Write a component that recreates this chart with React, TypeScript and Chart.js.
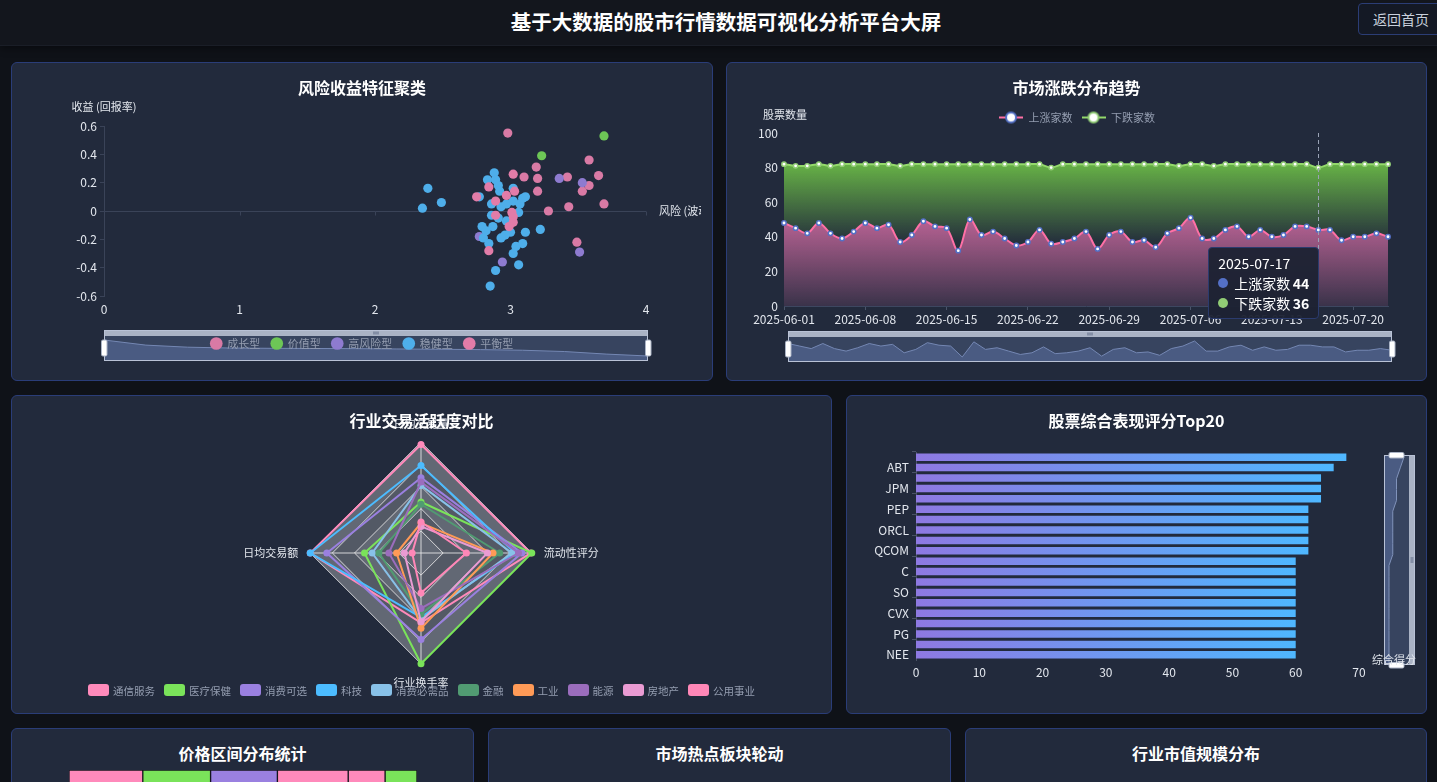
import React, { useEffect, useRef } from 'react';
import { Chart, registerables } from 'chart.js';

Chart.register(...registerables);

const FONT = "'Noto Sans CJK SC', 'Noto Sans', sans-serif";
Chart.defaults.font.family = FONT;
Chart.defaults.font.size = 12;

// ================= DATA =================
// 风险收益特征聚类 (risk, return)
const growthPoints: [number, number][] = [
  [2.98, 0.55], [3.19, 0.31], [3.10, 0.24], [3.20, 0.23], [3.20, 0.14], [3.42, 0.24], [3.58, 0.36],
  [3.65, 0.25], [3.58, 0.18], [3.53, 0.14], [3.69, 0.05], [3.43, 0.03], [3.28, 0.0], [3.49, -0.22],
];
const valuePoints: [number, number][] = [[3.69, 0.53], [3.23, 0.39]];
const highRiskPoints: [number, number][] = [[3.36, 0.23], [3.53, 0.2], [2.77, -0.18], [2.94, -0.36], [3.51, -0.29]];
const stablePoints: [number, number][] = [
  [2.39, 0.16], [2.35, 0.02], [2.49, 0.06], [2.88, 0.27], [2.83, 0.22], [2.89, 0.22], [2.91, 0.18],
  [3.02, 0.16], [2.92, 0.14], [2.77, 0.1], [2.86, 0.05], [2.93, 0.03], [2.97, 0.05], [3.02, 0.07],
  [3.07, 0.05], [3.09, 0.09], [3.11, 0.1], [3.06, -0.01], [2.86, -0.03], [2.91, -0.05], [2.97, -0.07],
  [2.79, -0.11], [2.87, -0.11], [2.82, -0.14], [3.0, -0.15], [3.11, -0.15], [3.22, -0.13], [2.96, -0.17],
  [2.93, -0.19], [2.8, -0.19], [2.84, -0.23], [3.04, -0.25], [3.09, -0.23], [3.02, -0.3], [3.06, -0.38],
  [2.89, -0.42], [2.85, -0.53],
];
const balancedPoints: [number, number][] = [
  [3.02, 0.26], [3.03, 0.14], [2.97, 0.11], [2.84, 0.17], [2.75, 0.1], [2.89, 0.07], [3.01, -0.01],
  [2.89, -0.03], [3.02, -0.04], [3.02, -0.08], [2.99, -0.11], [2.84, -0.28],
];
const scatterGroupNames = ['成长型', '价值型', '高风险型', '稳健型', '平衡型'];
const scatterZoomShadow = [1.0, 0.68, 0.55, 0.5, 0.48, 0.47, 0.46, 0.44, 0.42, 0.4, 0.36, 0.28, 0.12, 0.0];

// 市场涨跌分布趋势
const trendStartDate = '2025-06-01';
const upCounts = [
  48, 45, 42, 48, 42, 39, 43, 48, 45, 47, 37, 41, 49, 46, 45, 32, 50, 41, 43, 39, 35, 37, 44, 36, 37, 39, 43,
  33, 41, 43, 37, 38, 34, 42, 45, 51, 39, 39, 44, 46, 40, 44, 40, 41, 46, 46, 44, 44, 38, 40, 40, 42, 40,
];
const downCounts = [
  34, 36, 39, 34, 39, 43, 39, 34, 37, 35, 44, 41, 33, 36, 37, 50, 32, 41, 39, 43, 47, 45, 38, 44, 45, 43, 39,
  49, 41, 39, 45, 44, 48, 40, 36, 31, 43, 42, 38, 36, 42, 38, 42, 41, 36, 36, 36, 38, 44, 42, 42, 40, 42,
];
const trendSeriesNames = ['上涨家数', '下跌家数'];
const hoverDate = '2025-07-17';

function buildDates(start: string, n: number): string[] {
  const out: string[] = [];
  const d = new Date(start + 'T00:00:00Z');
  for (let i = 0; i < n; i++) {
    const c = new Date(d.getTime() + i * 86400000);
    out.push(c.toISOString().slice(0, 10));
  }
  return out;
}
const trendDates = buildDates(trendStartDate, upCounts.length);

// 行业交易活跃度对比
const radarIndicators = ['日均交易量', '流动性评分', '行业换手率', '日均交易额'];
const radarIndustries = ['通信服务', '医疗保健', '消费可选', '科技', '消费必需品', '金融', '工业', '能源', '房地产', '公用事业'];
const radarValues: number[][] = [
  [98, 99, 63, 100],
  [46, 100, 100, 51],
  [68, 91, 78, 85],
  [79, 85, 58, 100],
  [61, 82, 60, 44],
  [44, 71, 55, 38],
  [27, 65, 68, 22],
  [64, 88, 50, 29],
  [24, 60, 62, 15],
  [28, 41, 36, 8],
];

// 股票综合表现评分Top20
const topStocks = ['MSFT', 'ABT', 'KO', 'JPM', 'JNJ', 'PEP', 'WMT', 'ORCL', 'CSCO', 'QCOM', 'BAC', 'C', 'DUK', 'SO', 'XOM', 'CVX', 'MRK', 'PG', 'D', 'NEE'];
const topScores = [68, 66, 64, 64, 64, 62, 62, 62, 62, 62, 60, 60, 60, 60, 60, 60, 60, 60, 60, 60];

// 价格区间分布统计
const priceRanges = ['0-10元', '10-20元', '20-50元', '50-100元', '100-200元', '200元以上'];
const priceCounts = [74, 68, 67, 71, 37, 32];

// ================= STYLE =================
const TXT = '#e3e7ee';
const AXIS = '#3a4358';
const LEGEND_TXT = '#949db0';
const scatterColors = ['#d97aa5', '#6dc656', '#8e7bd0', '#4eaeea', '#e27ca8'];
const trendLineColors = ['#ff70a6', '#93d96a'];
const trendItemColors = ['#5470c6', '#91cc75'];
const radarColors = ['#ff8abb', '#7ae35a', '#9a80e0', '#4cbcff', '#88c1e8', '#519b72', '#ff9a57', '#9b6dbd', '#ea9bd3', '#ff87b7'];
const priceColors = ['#ff8abb', '#7ae35a', '#9a80e0', '#ff8abb', '#ff8abb', '#7ae35a'];

// page geometry of canvases
const SC = { left: 23, top: 95, width: 678, height: 275 };
const TR = { left: 738, top: 95, width: 678, height: 275 };
const RD = { left: 11, top: 400, width: 821, height: 290 };
const BR = { left: 850, top: 440, width: 574, height: 260 };
const PR = { left: 69, top: 770, width: 348, height: 40 };

// ================= HELPERS =================
function roundRect(ctx: CanvasRenderingContext2D, x: number, y: number, w: number, h: number, r: number) {
  ctx.beginPath();
  ctx.moveTo(x + r, y);
  ctx.arcTo(x + w, y, x + w, y + h, r);
  ctx.arcTo(x + w, y + h, x, y + h, r);
  ctx.arcTo(x, y + h, x, y, r);
  ctx.arcTo(x, y, x + w, y, r);
  ctx.closePath();
}

function drawHSlider(ctx: CanvasRenderingContext2D, x: number, y: number, w: number, h: number, values: number[]) {
  ctx.save();
  const by = y + 6;
  const bh = h - 6;
  ctx.fillStyle = '#37445f';
  ctx.fillRect(x, by, w, bh);
  const mn = Math.min(...values);
  const mx = Math.max(...values);
  const top = by + 4;
  const bot = by + bh - 5;
  const pts = values.map((v, i) => [x + (w * i) / (values.length - 1), bot - ((v - mn) / (mx - mn || 1)) * (bot - top)]);
  ctx.beginPath();
  ctx.moveTo(x, by + bh);
  pts.forEach((p) => ctx.lineTo(p[0], p[1]));
  ctx.lineTo(x + w, by + bh);
  ctx.closePath();
  ctx.fillStyle = '#4a5b82';
  ctx.fill();
  ctx.beginPath();
  pts.forEach((p, i) => (i ? ctx.lineTo(p[0], p[1]) : ctx.moveTo(p[0], p[1])));
  ctx.strokeStyle = '#7487b3';
  ctx.lineWidth = 1;
  ctx.stroke();
  ctx.fillStyle = '#aab3c5';
  ctx.fillRect(x, y, w, 6);
  ctx.strokeStyle = '#b9c2d6';
  ctx.strokeRect(x + 0.5, y + 0.5, w - 1, h - 1);
  ctx.fillStyle = '#5d6a86';
  for (let k = -1; k <= 1; k++) ctx.fillRect(x + w / 2 + k * 2 - 0.5, y + 1.5, 1, 3);
  ctx.fillStyle = '#ffffff';
  ctx.strokeStyle = '#aab3c5';
  [x, x + w].forEach((hx) => {
    roundRect(ctx, hx - 2.5, by + 4, 5.5, 16, 1.5);
    ctx.fill();
    ctx.stroke();
  });
  ctx.restore();
}

function drawVSlider(ctx: CanvasRenderingContext2D, x: number, y: number, w: number, h: number, values: number[]) {
  ctx.save();
  const bw = w - 6;
  ctx.fillStyle = '#37445f';
  ctx.fillRect(x, y, bw, h);
  const mn = Math.min(...values);
  const mx = Math.max(...values);
  const l = x + 5;
  const r = x + bw - 5;
  const pts = values.map((v, i) => [l + ((v - mn) / (mx - mn || 1)) * (r - l), y + 2 + ((h - 4) * i) / (values.length - 1)]);
  ctx.beginPath();
  ctx.moveTo(x, y);
  pts.forEach((p) => ctx.lineTo(p[0], p[1]));
  ctx.lineTo(x, y + h);
  ctx.closePath();
  ctx.fillStyle = '#4a5b82';
  ctx.fill();
  ctx.beginPath();
  pts.forEach((p, i) => (i ? ctx.lineTo(p[0], p[1]) : ctx.moveTo(p[0], p[1])));
  ctx.strokeStyle = '#8193bb';
  ctx.lineWidth = 1;
  ctx.stroke();
  ctx.fillStyle = '#aab3c5';
  ctx.fillRect(x + bw, y, 6, h);
  ctx.strokeStyle = '#b9c2d6';
  ctx.strokeRect(x + 0.5, y + 0.5, w - 1, h - 1);
  ctx.fillStyle = '#5d6a86';
  for (let k = -1; k <= 1; k++) ctx.fillRect(x + bw + 1.5, y + h / 2 + k * 2 - 0.5, 3, 1);
  ctx.fillStyle = '#ffffff';
  ctx.strokeStyle = '#aab3c5';
  [y, y + h].forEach((hy) => {
    roundRect(ctx, x + 5, hy - 2.5, bw - 10, 5.5, 1.5);
    ctx.fill();
    ctx.stroke();
  });
  ctx.restore();
}

function makeLegendIcon(lineColor: string, ringColor: string) {
  const c = document.createElement('canvas');
  c.width = 24;
  c.height = 14;
  const g = c.getContext('2d')!;
  g.strokeStyle = lineColor;
  g.lineWidth = 2;
  g.beginPath();
  g.moveTo(0, 7);
  g.lineTo(24, 7);
  g.stroke();
  g.beginPath();
  g.arc(12, 7, 5, 0, Math.PI * 2);
  g.fillStyle = '#ffffff';
  g.fill();
  g.strokeStyle = ringColor;
  g.lineWidth = 2;
  g.stroke();
  return c;
}

function useChart(ref: React.RefObject<HTMLCanvasElement>, make: (c: HTMLCanvasElement) => Chart) {
  useEffect(() => {
    const chart = make(ref.current!);
    return () => chart.destroy();
  }, []);
}

// ================= CHARTS =================
function ScatterChart() {
  const ref = useRef<HTMLCanvasElement>(null);
  useChart(ref, (canvas) => {
    const groups = [growthPoints, valuePoints, highRiskPoints, stablePoints, balancedPoints];
    const decor = {
      id: 'scatterDecor',
      beforeDraw(chart: any) {
        const a = chart.chartArea;
        drawHSlider(chart.ctx, a.left, a.bottom + 34, a.right + 2 - a.left, 31, scatterZoomShadow);
      },
      beforeDatasetsDraw(chart: any) {
        const { ctx, scales } = chart;
        const y0 = Math.round(scales.y.getPixelForValue(0)) + 0.5;
        ctx.save();
        ctx.strokeStyle = AXIS;
        ctx.lineWidth = 1;
        scales.x.ticks.forEach((t: any) => {
          const x = Math.round(scales.x.getPixelForValue(t.value)) + 0.5;
          ctx.beginPath();
          ctx.moveTo(x, y0);
          ctx.lineTo(x, y0 + 4);
          ctx.stroke();
        });
        ctx.restore();
      },
      afterDraw(chart: any) {
        const { ctx, chartArea: a, scales } = chart;
        ctx.save();
        ctx.fillStyle = TXT;
        ctx.font = `11px ${FONT}`;
        ctx.textBaseline = 'middle';
        ctx.textAlign = 'center';
        ctx.fillText('收益 (回报率)', a.left, a.top - 19);
        ctx.textAlign = 'left';
        ctx.fillText('风险 (波动率)', a.right + 13, scales.y.getPixelForValue(0));
        ctx.restore();
      },
    };
    return new Chart(canvas, {
      type: 'scatter',
      data: {
        datasets: groups.map((pts, i) => ({
          label: scatterGroupNames[i],
          data: pts.map(([x, y]) => ({ x, y })),
          backgroundColor: scatterColors[i],
          borderColor: scatterColors[i],
          borderWidth: 0,
          pointRadius: 4.6,
          order: -i,
        })),
      },
      options: {
        animation: false,
        responsive: false,
        events: [],
        layout: { padding: { left: 0, right: 0, top: 0, bottom: 11 } },
        plugins: {
          legend: {
            position: 'bottom',
            labels: {
              usePointStyle: true,
              pointStyle: 'circle',
              boxWidth: 11,
              boxHeight: 9,
              padding: 11,
              color: LEGEND_TXT,
              font: { size: 11 },
              sort: (a: any, b: any) => a.datasetIndex - b.datasetIndex,
            },
          },
          tooltip: { enabled: false },
        },
        scales: {
          x: {
            type: 'linear',
            min: 0,
            max: 4,
            ticks: { stepSize: 1, color: TXT, padding: 6 },
            grid: { display: false, drawTicks: false },
            border: { display: false },
            afterFit: (s: any) => {
              s.height = 31;
              s.paddingLeft = 0;
              s.paddingRight = 55;
            },
          },
          y: {
            min: -0.6,
            max: 0.6,
            ticks: { stepSize: 0.2, color: TXT, padding: 3 },
            grid: {
              color: (c: any) => (c.tick && Math.abs(c.tick.value) < 1e-9 ? AXIS : 'rgba(0,0,0,0)'),
              tickColor: AXIS,
              tickLength: 4,
            },
            border: { display: true, color: AXIS },
            afterFit: (s: any) => {
              s.width = 81;
              s.paddingTop = 31;
              s.paddingBottom = 0;
            },
          },
        },
      } as any,
      plugins: [decor],
    });
  });
  return <canvas ref={ref} width={SC.width} height={SC.height} style={{ position: 'absolute', left: SC.left, top: SC.top }} />;
}

function TrendChart() {
  const ref = useRef<HTMLCanvasElement>(null);
  const tipRef = useRef<HTMLDivElement>(null);
  useEffect(() => {
    const icons = [makeLegendIcon(trendLineColors[0], trendItemColors[0]), makeLegendIcon(trendLineColors[1], trendItemColors[1])];
    const decor = {
      id: 'trendDecor',
      beforeDraw(chart: any) {
        const a = chart.chartArea;
        drawHSlider(chart.ctx, a.left + 4, a.bottom + 25, a.right - a.left, 31, upCounts);
      },
      afterDatasetsDraw(chart: any) {
        const { ctx, chartArea: a } = chart;
        const act = chart.tooltip ? chart.tooltip.getActiveElements() : [];
        if (act.length) {
          const x = Math.round(act[0].element.x) + 0.5;
          ctx.save();
          ctx.strokeStyle = '#9aa3b6';
          ctx.lineWidth = 1;
          ctx.setLineDash([4, 3]);
          ctx.beginPath();
          ctx.moveTo(x, a.top);
          ctx.lineTo(x, a.bottom);
          ctx.stroke();
          ctx.restore();
        }
        ctx.save();
        ctx.fillStyle = TXT;
        ctx.font = `11px ${FONT}`;
        ctx.textAlign = 'center';
        ctx.textBaseline = 'middle';
        ctx.fillText('股票数量', a.left + 1, a.top - 18);
        ctx.restore();
      },
    };
    const upFill = (c: any) => {
      const chart = c.chart;
      if (!chart.chartArea) return 'rgba(236,118,178,0.4)';
      const y = chart.scales.y;
      const g = chart.ctx.createLinearGradient(0, y.getPixelForValue(50), 0, y.getPixelForValue(0));
      g.addColorStop(0, 'rgba(236,118,178,0.74)');
      g.addColorStop(1, 'rgba(236,118,178,0.12)');
      return g;
    };
    const downFill = (c: any) => {
      const chart = c.chart;
      if (!chart.chartArea) return 'rgba(118,200,78,0.5)';
      const y = chart.scales.y;
      const g = chart.ctx.createLinearGradient(0, y.getPixelForValue(82), 0, y.getPixelForValue(38));
      g.addColorStop(0, 'rgba(112,196,72,0.88)');
      g.addColorStop(1, 'rgba(112,196,72,0.06)');
      return g;
    };
    const external = ({ tooltip }: any) => {
      const el = tipRef.current;
      if (!el) return;
      if (tooltip.opacity === 0 || !tooltip.dataPoints || !tooltip.dataPoints.length) {
        el.style.display = 'none';
        return;
      }
      const p = tooltip.dataPoints[0].element;
      const rows = tooltip.dataPoints
        .map(
          (dp: any) =>
            `<div style="display:flex;align-items:center;height:20px"><span style="display:inline-block;width:10px;height:10px;border-radius:50%;background:${trendItemColors[dp.datasetIndex]};margin-right:6px"></span><span style="flex:1">${dp.dataset.label}</span><b>${dp.formattedValue}</b></div>`
        )
        .join('');
      el.innerHTML = `<div style="height:20px;line-height:20px">${tooltip.title[0]}</div>${rows}`;
      el.style.display = 'block';
      el.style.left = TR.left + p.x - 110 + 'px';
      el.style.top = TR.top + p.y + 17 + 'px';
    };
    const chart = new Chart(ref.current!, {
      type: 'line',
      data: {
        labels: trendDates,
        datasets: [
          {
            label: trendSeriesNames[0],
            data: upCounts,
            borderColor: trendLineColors[0],
            borderWidth: 2,
            backgroundColor: upFill,
            fill: 'origin',
            tension: 0.35,
            pointRadius: 2.2,
            pointBorderWidth: 1.5,
            pointBackgroundColor: '#ffffff',
            pointBorderColor: trendItemColors[0],
          },
          {
            label: trendSeriesNames[1],
            data: downCounts,
            borderColor: trendLineColors[1],
            borderWidth: 2,
            backgroundColor: downFill,
            fill: '-1',
            tension: 0.35,
            pointRadius: 2.2,
            pointBorderWidth: 1.5,
            pointBackgroundColor: '#ffffff',
            pointBorderColor: trendItemColors[1],
          },
        ],
      },
      options: {
        animation: false,
        responsive: false,
        events: [],
        layout: { padding: { left: 0, right: 0, top: 0, bottom: 0 } },
        plugins: {
          legend: {
            position: 'top',
            labels: {
              usePointStyle: true,
              pointStyleWidth: 24,
              padding: 9,
              color: LEGEND_TXT,
              font: { size: 11 },
              generateLabels: (ch: any) =>
                (Chart.defaults.plugins.legend.labels.generateLabels as any)(ch).map((it: any, i: number) => ({ ...it, pointStyle: icons[i] })),
            },
          },
          tooltip: { enabled: false, mode: 'index', intersect: false, external },
        },
        scales: {
          x: {
            ticks: {
              autoSkip: false,
              maxRotation: 0,
              color: TXT,
              padding: 2,
              callback: (_v: any, i: number) => (i % 7 === 0 ? trendDates[i] : ''),
            },
            grid: {
              display: true,
              drawOnChartArea: false,
              drawTicks: true,
              tickLength: 4,
              tickColor: (c: any) => (c.index % 7 === 0 ? '#4a5469' : 'rgba(0,0,0,0)'),
            },
            border: { display: true, color: '#3d4760' },
            afterFit: (s: any) => {
              s.height = 64;
              s.paddingRight = 28;
            },
          },
          y: {
            stacked: true,
            min: 0,
            max: 100,
            ticks: { stepSize: 20, color: TXT, padding: 6 },
            grid: { display: false, drawTicks: false },
            border: { display: false },
            afterFit: (s: any) => {
              s.width = 46;
              s.paddingTop = 38;
              s.paddingBottom = 0;
            },
          },
        },
      } as any,
      plugins: [decor],
    });
    const idx = trendDates.indexOf(hoverDate);
    const pt: any = chart.getDatasetMeta(0).data[idx];
    chart.tooltip!.setActiveElements(
      [
        { datasetIndex: 0, index: idx },
        { datasetIndex: 1, index: idx },
      ],
      { x: pt.x, y: pt.y }
    );
    chart.draw();
    return () => chart.destroy();
  }, []);
  return (
    <>
      <canvas ref={ref} width={TR.width} height={TR.height} style={{ position: 'absolute', left: TR.left, top: TR.top }} />
      <div
        ref={tipRef}
        style={{
          position: 'absolute',
          display: 'none',
          width: 111,
          boxSizing: 'border-box',
          padding: '5px 9px',
          background: 'rgba(29,34,51,0.96)',
          border: '1px solid #2b3b6e',
          borderRadius: 4,
          color: '#ffffff',
          fontSize: 14,
          fontFamily: FONT,
          zIndex: 5,
        }}
      />
    </>
  );
}

function RadarChart() {
  const ref = useRef<HTMLCanvasElement>(null);
  useChart(ref, (canvas) => {
    const bands = {
      id: 'radarBands',
      beforeDraw(chart: any) {
        const r = chart.scales.r;
        const n = chart.data.labels.length;
        const ctx = chart.ctx;
        const poly = (v: number) => {
          for (let i = 0; i < n; i++) {
            const p = r.getPointPositionForValue(i, v);
            if (i) ctx.lineTo(p.x, p.y);
            else ctx.moveTo(p.x, p.y);
          }
          ctx.closePath();
        };
        ctx.save();
        for (let k = 0; k < 5; k++) {
          ctx.beginPath();
          poly((k + 1) * 20);
          if (k > 0) poly(k * 20);
          ctx.fillStyle = k % 2 === 0 ? 'rgba(250,250,250,0.3)' : 'rgba(200,200,200,0.3)';
          ctx.fill('evenodd');
        }
        ctx.restore();
      },
    };
    return new Chart(canvas, {
      type: 'radar',
      data: {
        labels: radarIndicators,
        datasets: radarIndustries.map((name, i) => ({
          label: name,
          data: radarValues[i],
          borderColor: radarColors[i],
          backgroundColor: radarColors[i],
          borderWidth: 2,
          fill: false,
          pointRadius: 3.5,
          pointBorderWidth: 0,
          pointBackgroundColor: radarColors[i],
          order: -i,
        })),
      },
      options: {
        animation: false,
        responsive: false,
        events: [],
        layout: { padding: { top: 17, bottom: 0, left: 0, right: 0 } },
        plugins: { legend: { display: false }, tooltip: { enabled: false } },
        scales: {
          r: {
            min: 0,
            max: 100,
            ticks: { display: false, stepSize: 20 },
            grid: { color: 'rgba(235,235,235,0.85)', lineWidth: 1 },
            angleLines: { color: 'rgba(235,235,235,0.85)', lineWidth: 1 },
            pointLabels: { color: TXT, font: { size: 11 }, padding: 12 },
          },
        },
      } as any,
      plugins: [bands],
    });
  });
  return <canvas ref={ref} width={RD.width} height={RD.height} style={{ position: 'absolute', left: RD.left, top: RD.top }} />;
}

function RadarLegend() {
  return (
    <div
      style={{
        position: 'absolute',
        left: 11,
        width: 821,
        top: 683,
        height: 14,
        display: 'flex',
        justifyContent: 'center',
        alignItems: 'center',
        gap: 9,
        fontSize: 10.5,
        color: LEGEND_TXT,
        zIndex: 3,
        whiteSpace: 'nowrap',
      }}
    >
      {radarIndustries.map((name, i) => (
        <div key={name} style={{ display: 'flex', alignItems: 'center' }}>
          <span style={{ display: 'inline-block', width: 21, height: 12, borderRadius: 3, background: radarColors[i], marginRight: 4 }} />
          <span>{name}</span>
        </div>
      ))}
    </div>
  );
}

function BarChart() {
  const ref = useRef<HTMLCanvasElement>(null);
  useChart(ref, (canvas) => {
    const decor = {
      id: 'barDecor',
      afterDraw(chart: any) {
        const { ctx, chartArea: a } = chart;
        drawVSlider(ctx, a.right + 25, a.top + 3, 31, a.bottom + 2 - a.top, topScores);
        ctx.save();
        ctx.fillStyle = TXT;
        ctx.font = `11px ${FONT}`;
        ctx.textAlign = 'left';
        ctx.textBaseline = 'middle';
        ctx.fillText('综合得分', a.right + 13, a.bottom);
        ctx.restore();
      },
    };
    const barFill = (c: any) => {
      const chart = c.chart;
      if (!chart.chartArea || !c.parsed) return '#6f95f0';
      const xs = chart.scales.x;
      const x0 = xs.getPixelForValue(0);
      const x1 = xs.getPixelForValue(c.parsed.x);
      const g = chart.ctx.createLinearGradient(x0, 0, x1, 0);
      g.addColorStop(0, '#8e79e2');
      g.addColorStop(1, '#4fb7ff');
      return g;
    };
    return new Chart(canvas, {
      type: 'bar',
      data: {
        labels: topStocks,
        datasets: [{ label: '综合得分', data: topScores, backgroundColor: barFill, borderWidth: 0, categoryPercentage: 0.72, barPercentage: 1 }],
      },
      options: {
        indexAxis: 'y',
        animation: false,
        responsive: false,
        events: [],
        layout: { padding: { left: 0, right: 65, top: 12, bottom: 0 } },
        plugins: { legend: { display: false }, tooltip: { enabled: false } },
        scales: {
          x: {
            min: 0,
            max: 70,
            ticks: { stepSize: 10, color: TXT, padding: 5 },
            grid: { display: false, drawTicks: false },
            border: { display: false },
            afterFit: (s: any) => {
              s.height = 40;
              s.paddingLeft = 0;
              s.paddingRight = 0;
            },
          },
          y: {
            ticks: { autoSkip: false, color: TXT, padding: 3, callback: (_v: any, i: number) => (i % 2 === 1 ? topStocks[i] : '') },
            grid: {
              display: true,
              drawOnChartArea: false,
              tickLength: 4,
              tickColor: (c: any) => (c.index % 2 === 0 ? '#4a5366' : 'rgba(0,0,0,0)'),
            },
            border: { display: true, color: '#4a5366' },
            afterFit: (s: any) => {
              s.width = 66;
              s.paddingTop = 0;
              s.paddingBottom = 0;
            },
          },
        },
      } as any,
      plugins: [decor],
    });
  });
  return <canvas ref={ref} width={BR.width} height={BR.height} style={{ position: 'absolute', left: BR.left, top: BR.top }} />;
}

function PriceChart() {
  const ref = useRef<HTMLCanvasElement>(null);
  useChart(ref, (canvas) =>
    new Chart(canvas, {
      type: 'bar',
      data: {
        labels: ['价格区间'],
        datasets: priceRanges.map((name, i) => ({
          label: name,
          data: [priceCounts[i]],
          backgroundColor: priceColors[i],
          borderColor: '#14161c',
          borderWidth: 1,
          borderSkipped: false,
          barPercentage: 1,
          categoryPercentage: 1,
        })),
      },
      options: {
        indexAxis: 'y',
        animation: false,
        responsive: false,
        events: [],
        layout: { padding: 0 },
        plugins: { legend: { display: false }, tooltip: { enabled: false } },
        scales: {
          x: { stacked: true, display: false, min: 0, max: priceCounts.reduce((a, b) => a + b, 0) },
          y: { stacked: true, display: false },
        },
      } as any,
    })
  );
  return <canvas ref={ref} width={PR.width} height={PR.height} style={{ position: 'absolute', left: PR.left, top: PR.top }} />;
}

// ================= LAYOUT =================
function Panel({ left, top, width, height }: { left: number; top: number; width: number; height: number }) {
  return (
    <div
      style={{
        position: 'absolute',
        left,
        top,
        width,
        height,
        boxSizing: 'border-box',
        background: '#222a3c',
        border: '1px solid #2a3d78',
        borderRadius: 6,
      }}
    />
  );
}

function PanelTitle({ left, top, width, text }: { left: number; top: number; width: number; text: string }) {
  return (
    <div
      style={{
        position: 'absolute',
        left,
        top,
        width,
        height: 22,
        lineHeight: '22px',
        textAlign: 'center',
        color: '#ffffff',
        fontWeight: 700,
        fontSize: 16,
        zIndex: 4,
        pointerEvents: 'none',
      }}
    >
      {text}
    </div>
  );
}

const panels = [
  { left: 11, top: 62, width: 702, height: 319, title: '风险收益特征聚类' },
  { left: 726, top: 62, width: 701, height: 319, title: '市场涨跌分布趋势' },
  { left: 11, top: 395, width: 821, height: 319, title: '行业交易活跃度对比' },
  { left: 846, top: 395, width: 581, height: 319, title: '股票综合表现评分Top20' },
  { left: 11, top: 728, width: 463, height: 319, title: '价格区间分布统计' },
  { left: 488, top: 728, width: 463, height: 319, title: '市场热点板块轮动' },
  { left: 965, top: 728, width: 462, height: 319, title: '行业市值规模分布' },
];

export default function App() {
  return (
    <div
      style={{
        position: 'fixed',
        left: 0,
        top: 0,
        width: 1437,
        height: 782,
        overflow: 'hidden',
        background: '#0f1218',
        fontFamily: FONT,
      }}
    >
      <div
        style={{
          position: 'absolute',
          left: 0,
          top: 0,
          width: 1437,
          height: 45,
          background: '#13161d',
          borderBottom: '1px solid #1a1e27',
          boxShadow: '0 2px 8px rgba(0,0,0,0.45)',
        }}
      >
        <div
          style={{
            position: 'absolute',
            left: 726,
            top: 8,
            transform: 'translateX(-50%)',
            whiteSpace: 'nowrap',
            color: '#ffffff',
            fontWeight: 700,
            fontSize: 20.5,
            lineHeight: '26px',
          }}
        >
          基于大数据的股市行情数据可视化分析平台大屏
        </div>
        <div
          style={{
            position: 'absolute',
            left: 1358,
            top: 3,
            width: 92,
            height: 32,
            boxSizing: 'border-box',
            border: '1px solid #2b3d75',
            borderRadius: 4,
            background: '#141925',
            color: '#c9d0dc',
            fontSize: 14,
            lineHeight: '30px',
            paddingLeft: 14,
            whiteSpace: 'nowrap',
          }}
        >
          返回首页
        </div>
      </div>
      {panels.map((p) => (
        <Panel key={p.title} left={p.left} top={p.top} width={p.width} height={p.height} />
      ))}
      <ScatterChart />
      <TrendChart />
      <RadarChart />
      <RadarLegend />
      <BarChart />
      <PriceChart />
      {panels.map((p) => (
        <PanelTitle key={'t' + p.title} left={p.left} top={p.top + 14} width={p.width} text={p.title} />
      ))}
    </div>
  );
}
